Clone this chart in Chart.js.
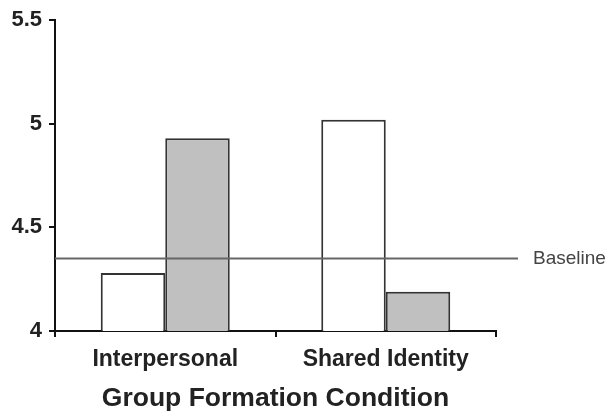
<!DOCTYPE html>
<html>
<head>
<meta charset="utf-8">
<script src="https://cdn.jsdelivr.net/npm/chart.js@4/dist/chart.umd.min.js"></script>
<style>
    html, body { margin: 0; padding: 0; background: #fff; }
    #wrap { width: 614px; height: 411px; }
</style>
</head>
<body>
<div id="wrap"><canvas id="chart"></canvas></div>
<script>
// values
const categories = ["Interpersonal", "Shared Identity"];
const whiteValues = [4.28, 5.02];
const grayValues = [4.93, 4.19];
const baselineValue = 4.35;
const baselineLabel = "Baseline";
const yMin = 4, yMax = 5.5, yStep = 0.5;
const xTitle = "Group Formation Condition";

const FONT = "'Liberation Sans', Arial, sans-serif";

// horizontal reference line with its label to the right of the plot
const baselinePlugin = {
    id: "baseline",
    afterDatasetsDraw(chart) {
        const { ctx, chartArea, scales } = chart;
        const y = scales.y.getPixelForValue(baselineValue);
        ctx.save();
        ctx.strokeStyle = "#666";
        ctx.lineWidth = 2;
        ctx.beginPath();
        ctx.moveTo(chartArea.left, y);
        ctx.lineTo(chartArea.right + 22, y);
        ctx.stroke();
        ctx.fillStyle = "#444";
        ctx.font = "19px " + FONT;
        ctx.textBaseline = "middle";
        ctx.fillText(baselineLabel, chartArea.right + 37, y);
        ctx.restore();
    }
};

const config = {
    type: "bar",
    data: {
        labels: categories,
        datasets: [
            {
                data: whiteValues,
                backgroundColor: "#ffffff",
                borderColor: "#333",
                borderWidth: 2
            },
            {
                data: grayValues,
                backgroundColor: "#c0c0c0",
                borderColor: "#333",
                borderWidth: 2
            }
        ]
    },
    options: {
        responsive: true,
        maintainAspectRatio: false,
        animation: false,
        barPercentage: 1,
        categoryPercentage: 0.585,
        layout: { padding: { top: 20, right: 118, left: 0, bottom: 0 } },
        plugins: {
            legend: { display: false },
            tooltip: { enabled: false }
        },
        scales: {
            y: {
                min: yMin,
                max: yMax,
                ticks: {
                    stepSize: yStep,
                    color: "#222",
                    padding: 7,
                    font: { family: FONT, size: 22, weight: "bold" },
                    callback: (v) => String(v)
                },
                grid: {
                    drawOnChartArea: false,
                    tickLength: 6,
                    color: "#111",
                    lineWidth: 2
                },
                border: { color: "#111", width: 2 },
                afterFit: (scale) => { scale.width = 55; }
            },
            x: {
                ticks: {
                    color: "#222",
                    padding: 9,
                    font: { family: FONT, size: 23, weight: "bold" }
                },
                grid: {
                    drawOnChartArea: false,
                    offset: true,
                    tickLength: 6,
                    color: "#111",
                    lineWidth: 2
                },
                border: { color: "#111", width: 2 },
                title: {
                    display: true,
                    text: xTitle,
                    color: "#222",
                    padding: { top: 0, bottom: -4 },
                    font: { family: FONT, size: 26.5, weight: "bold" }
                },
                afterFit: (scale) => { scale.height = 80; }
            }
        }
    },
    plugins: [baselinePlugin]
};

new Chart(document.getElementById("chart"), config);
</script>
</body>
</html>
